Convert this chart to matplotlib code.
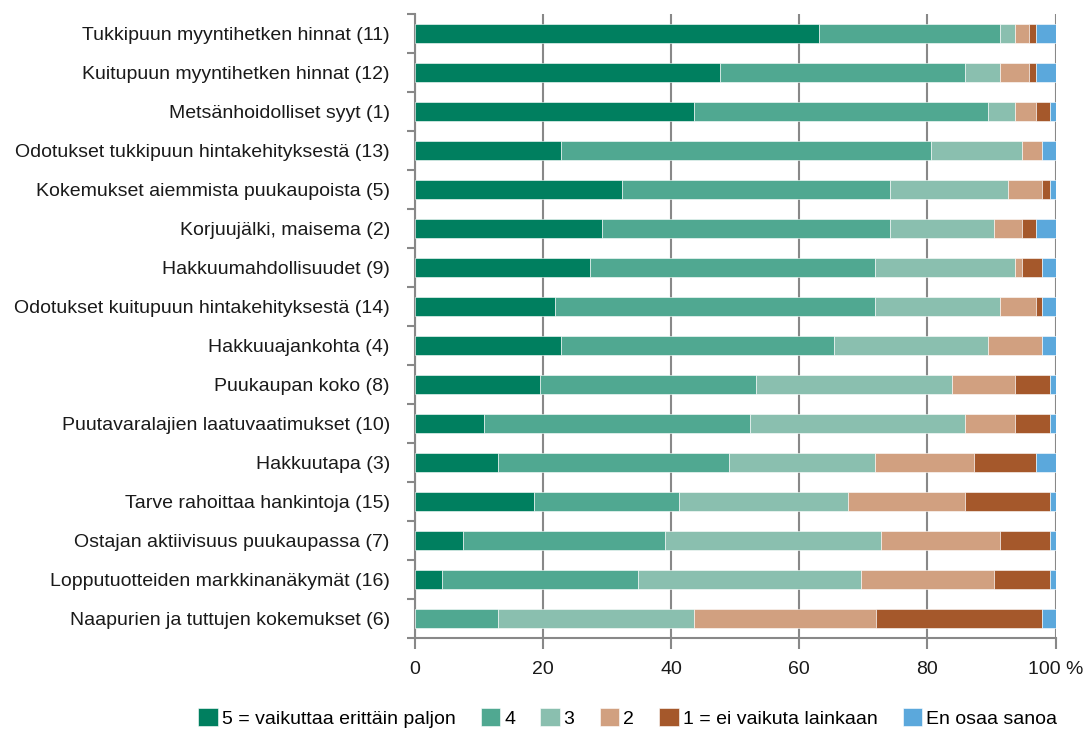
import matplotlib
matplotlib.use("Agg")
import matplotlib.pyplot as plt
import numpy as np

plt.rcParams['font.family'] = ['Liberation Sans', 'DejaVu Sans']

categories = [
    "Tukkipuun myyntihetken hinnat (11)",
    "Kuitupuun myyntihetken hinnat (12)",
    "Metsänhoidolliset syyt (1)",
    "Odotukset tukkipuun hintakehityksestä (13)",
    "Kokemukset aiemmista puukaupoista (5)",
    "Korjuujälki, maisema (2)",
    "Hakkuumahdollisuudet (9)",
    "Odotukset kuitupuun hintakehityksestä (14)",
    "Hakkuuajankohta (4)",
    "Puukaupan koko (8)",
    "Puutavaralajien laatuvaatimukset (10)",
    "Hakkuutapa (3)",
    "Tarve rahoittaa hankintoja (15)",
    "Ostajan aktiivisuus puukaupassa (7)",
    "Lopputuotteiden markkinanäkymät (16)",
    "Naapurien ja tuttujen kokemukset (6)",
]

series_names = ["5 = vaikuttaa erittäin paljon", "4", "3", "2",
                "1 = ei vaikuta lainkaan", "En osaa sanoa"]

s5 = [63.1, 47.7, 43.6, 22.8, 32.4, 29.2, 27.4, 21.8, 22.8, 19.6, 10.8, 12.9, 18.6, 7.5, 4.3, 0.0]
s4 = [28.2, 38.2, 45.8, 57.8, 41.7, 44.9, 44.4, 50.0, 42.6, 33.7, 41.5, 36.2, 22.7, 31.5, 30.5, 12.9]
s3 = [2.3, 5.4, 4.2, 14.1, 18.5, 16.3, 21.8, 19.6, 24.0, 30.6, 33.6, 22.7, 26.3, 33.8, 34.8, 30.7]
s2 = [2.3, 4.6, 3.4, 3.2, 5.3, 4.3, 1.1, 5.6, 8.5, 9.7, 7.7, 15.4, 18.3, 18.6, 20.8, 28.3]
s1 = [1.1, 1.1, 2.1, 0.0, 1.2, 2.3, 3.2, 0.9, 0.0, 5.5, 5.5, 9.8, 13.2, 7.7, 8.7, 26.0]
eos = [3.0, 3.0, 0.9, 2.1, 0.9, 3.0, 2.1, 2.1, 2.1, 0.9, 0.9, 3.0, 0.9, 0.9, 0.9, 2.1]

colors = ["#007f5f", "#50a891", "#8abfaf", "#d1a080", "#a5582b", "#5ba8dc"]

fig = plt.figure(figsize=(10.86, 7.29), dpi=100)
ax = fig.add_axes([0.382, 0.125, 0.590, 0.856])

y = np.arange(len(categories))
left = np.zeros(len(categories))
for vals, name, c in zip([s5, s4, s3, s2, s1, eos], series_names, colors):
    vals = np.array(vals)
    ax.barh(y, vals, left=left, height=0.49, color=c, label=name,
            edgecolor="white", linewidth=0.4, zorder=3)
    left += vals

ax.set_xlim(0, 100)
ax.set_ylim(len(categories) - 0.5, -0.5)

ax.set_yticks(y)
ax.set_yticklabels(categories, fontsize=14, color="#1a1a1a")
ax.tick_params(axis="y", which="major", length=0, pad=18)
ax.set_yticks(np.arange(-0.5, len(categories) + 0.5, 1), minor=True)
ax.tick_params(axis="y", which="minor", length=6, width=1.5, color="#888888")

ax.set_xticks([0, 20, 40, 60, 80, 100])
ax.set_xticklabels(["0", "20", "40", "60", "80", "100 %"], fontsize=14, color="#1a1a1a")
ax.tick_params(axis="x", length=8, width=1.5, color="#888888", pad=9)

ax.grid(axis="x", color="#888888", linewidth=1.5, zorder=0)
for side in ["top", "right"]:
    ax.spines[side].set_visible(False)
for side in ["left", "bottom"]:
    ax.spines[side].set_color("#888888")
    ax.spines[side].set_linewidth(1.5)

handles, labels = ax.get_legend_handles_labels()
fig.legend(handles, labels, loc="lower center", bbox_to_anchor=(0.578, -0.014), ncol=6,
           frameon=False, fontsize=14, handlelength=1.0, handleheight=1.0,
           handletextpad=0.2, columnspacing=1.3, borderaxespad=0.2)

fig.savefig("out.png", dpi=100)
